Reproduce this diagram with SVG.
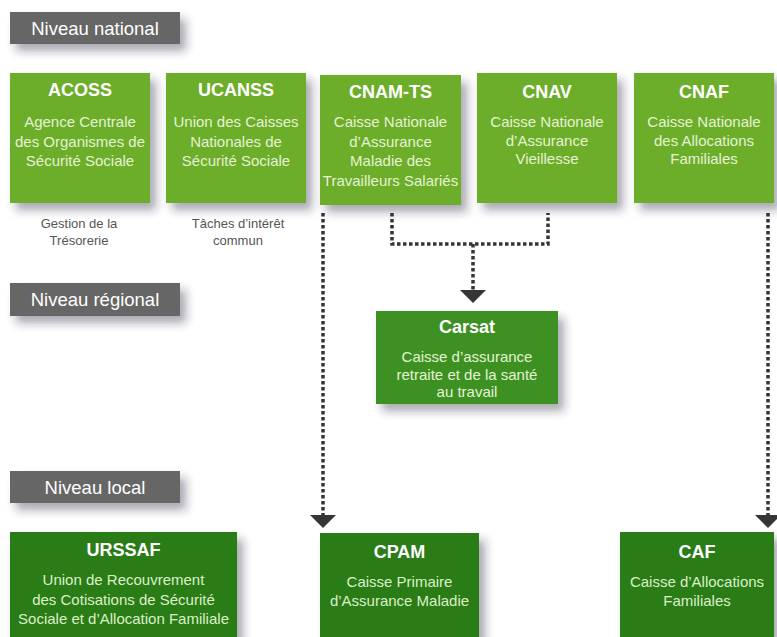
<svg xmlns="http://www.w3.org/2000/svg" width="777" height="637" viewBox="0 0 777 637">
<defs>
<filter id="sh" x="-20%" y="-20%" width="150%" height="170%">
<feDropShadow dx="6" dy="7" stdDeviation="5" flood-color="#2a2540" flood-opacity="0.4"/>
</filter>
</defs>
<style>
text{font-family:"Liberation Sans",Arial,sans-serif;text-anchor:middle}
.lvl rect{fill:#666666;filter:url(#sh)}
.lvl text{fill:#ffffff;font-size:18.5px}
.nat rect{fill:#6cad2a;filter:url(#sh)}
.reg rect{fill:#3e9124;filter:url(#sh)}
.loc rect{fill:#2c7b16;filter:url(#sh)}
.t{fill:#ffffff;font-size:18px;font-weight:bold}
.b{fill:#e4f3d2;font-size:15px}
.bl{fill:#dcf0c8;font-size:15px}
.note{fill:#555555;font-size:13px}
.dot{fill:none;stroke:#353535;stroke-width:3.5;stroke-dasharray:3.5 2.5}
.ah{fill:#353535}
</style>
<rect width="777" height="637" fill="#ffffff"/>

<g id="lvl-national" class="lvl"><rect x="10" y="12" width="170" height="32"/><text x="95" y="34.5">Niveau national</text></g>
<g id="lvl-regional" class="lvl"><rect x="10" y="283" width="170" height="33"/><text x="95" y="306">Niveau régional</text></g>
<g id="lvl-local" class="lvl"><rect x="10" y="471" width="170" height="32"/><text x="95" y="494">Niveau local</text></g>

<g id="connectors">
<path class="dot" d="M392 213 V244 H548 V213"/>
<path class="dot" d="M473 244 V290"/>
<path class="dot" d="M323 213 V515"/>
<path class="dot" d="M768 213 V515"/>
<polygon class="ah" points="460,290 486,290 473,303"/>
<polygon class="ah" points="310,515 336,515 323,528"/>
<polygon class="ah" points="755,515 781,515 768,528"/>
</g>

<g id="acoss" class="nat"><rect x="10" y="73" width="140" height="130"/>
<text class="t" x="80" y="96">ACOSS</text>
<text class="b" x="80" y="127">Agence Centrale</text>
<text class="b" x="80" y="146.5">des Organismes de</text>
<text class="b" x="80" y="166">Sécurité Sociale</text></g>

<g id="ucanss" class="nat"><rect x="166" y="73" width="140" height="130"/>
<text class="t" x="236" y="96">UCANSS</text>
<text class="b" x="236" y="127">Union des Caisses</text>
<text class="b" x="236" y="146.5">Nationales de</text>
<text class="b" x="236" y="166">Sécurité Sociale</text></g>

<g id="cnamts" class="nat"><rect x="320" y="75" width="141" height="130"/>
<text class="t" x="390.5" y="98">CNAM-TS</text>
<text class="b" x="390.5" y="127">Caisse Nationale</text>
<text class="b" x="390.5" y="146.5">d’Assurance</text>
<text class="b" x="390.5" y="166">Maladie des</text>
<text class="b" x="390.5" y="185.5">Travailleurs Salariés</text></g>

<g id="cnav" class="nat"><rect x="477" y="73" width="140" height="130"/>
<text class="t" x="547" y="98">CNAV</text>
<text class="b" x="547" y="127">Caisse Nationale</text>
<text class="b" x="547" y="145.5">d’Assurance</text>
<text class="b" x="547" y="164">Vieillesse</text></g>

<g id="cnaf" class="nat"><rect x="634" y="73" width="140" height="130"/>
<text class="t" x="704" y="98">CNAF</text>
<text class="b" x="704" y="127">Caisse Nationale</text>
<text class="b" x="704" y="145.5">des Allocations</text>
<text class="b" x="704" y="164">Familiales</text></g>

<g id="note-acoss"><text class="note" x="79" y="227.5">Gestion de la</text><text class="note" x="79" y="244.5">Trésorerie</text></g>
<g id="note-ucanss"><text class="note" x="238" y="227.5">Tâches d’intérêt</text><text class="note" x="238" y="244.5">commun</text></g>

<g id="carsat" class="reg"><rect x="376" y="311" width="182" height="93"/>
<text class="t" x="467" y="333">Carsat</text>
<text class="b" x="467" y="362">Caisse d’assurance</text>
<text class="b" x="467" y="380">retraite et de la santé</text>
<text class="b" x="467" y="397">au travail</text></g>

<g id="urssaf" class="loc"><rect x="10" y="532" width="227" height="110"/>
<text class="t" x="123.5" y="556">URSSAF</text>
<text class="bl" x="123.5" y="585">Union de Recouvrement</text>
<text class="bl" x="123.5" y="604.5">des Cotisations de Sécurité</text>
<text class="bl" x="123.5" y="624">Sociale et d’Allocation Familiale</text></g>

<g id="cpam" class="loc"><rect x="320" y="533" width="159" height="110"/>
<text class="t" x="399.5" y="558">CPAM</text>
<text class="bl" x="399.5" y="587">Caisse Primaire</text>
<text class="bl" x="399.5" y="606">d’Assurance Maladie</text></g>

<g id="caf" class="loc"><rect x="620" y="532" width="154" height="110"/>
<text class="t" x="697" y="558">CAF</text>
<text class="bl" x="697" y="587">Caisse d’Allocations</text>
<text class="bl" x="697" y="606">Familiales</text></g>
</svg>
